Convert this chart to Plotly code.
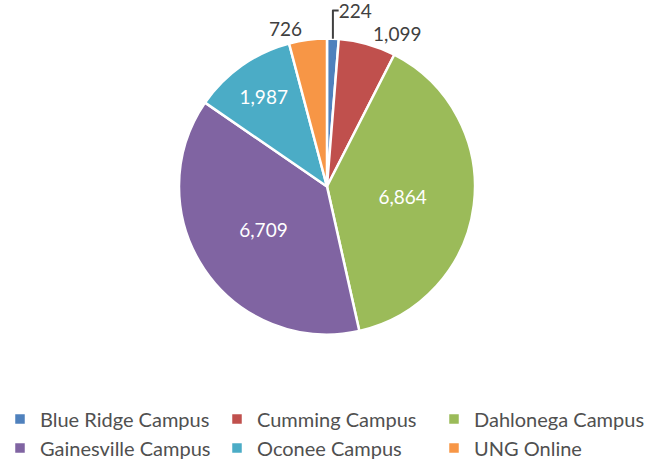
import plotly.graph_objects as go

campuses = ["Blue Ridge Campus", "Cumming Campus", "Dahlonega Campus",
            "Gainesville Campus", "Oconee Campus", "UNG Online"]
enrollment = [224, 1099, 6864, 6709, 1987, 726]
colors = ["#4F81BD", "#C0504D", "#9BBB59", "#8064A2", "#4BACC6", "#F79646"]
text_pos = ["outside", "outside", "inside", "inside", "inside", "outside"]

fig = go.Figure(go.Pie(
    labels=campuses,
    values=enrollment,
    sort=False,
    direction="clockwise",
    rotation=0,
    marker=dict(colors=colors, line=dict(color="white", width=2.5)),
    texttemplate="%{value:,}",
    textposition=text_pos,
    insidetextorientation="horizontal",
    insidetextfont=dict(color="white", size=19, family="Lato"),
    outsidetextfont=dict(color="#404040", size=19, family="Lato"),
    domain=dict(x=[0.2741, 0.7274], y=[0.293, 0.92]),
    automargin=False,
))

fig.update_layout(
    width=653, height=474,
    margin=dict(l=0, r=0, t=0, b=0),
    paper_bgcolor="white",
    plot_bgcolor="white",
    font=dict(family="Lato", color="#404040"),
    legend=dict(
        orientation="h",
        x=0.0, xanchor="left",
        y=0.157, yanchor="top",
        font=dict(size=20, color="#505050", family="Lato"),
        entrywidth=172,
        itemwidth=30,
    ),
)

fig.write_html("out.html")
